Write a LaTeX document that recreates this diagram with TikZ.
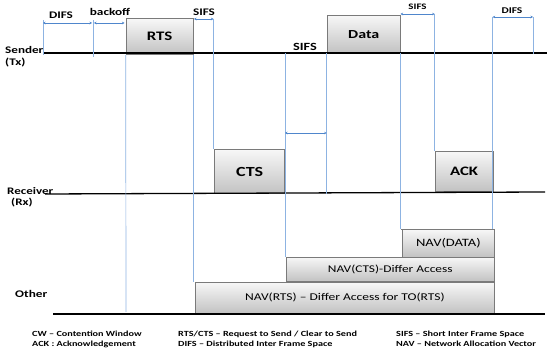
\documentclass[tikz,border=0pt]{standalone}
\usepackage{fontspec}
\usepackage{graphicx}
\setmainfont{Carlito}
\newcommand{\wtext}[1]{\scalebox{1.3}[1]{#1}}
\usetikzlibrary{arrows.meta}
\definecolor{vblue}{HTML}{8DB3E2}
\definecolor{ablue}{HTML}{4F86CC}
\definecolor{boxtop}{HTML}{F7F7F7}
\definecolor{boxbot}{HTML}{C2C2C2}
\definecolor{boxline}{HTML}{7A7A7A}
\tikzset{
  msg/.style={draw=boxline, line width=0.8pt, top color=boxtop, bottom color=boxbot, anchor=north west, inner sep=0pt, font=\bfseries},
  nav/.style={draw=boxline, line width=0.8pt, top color=boxtop, bottom color=boxbot, anchor=north west, inner sep=0pt},
  vline/.style={draw=vblue, line width=0.7pt},
  dim/.style={draw=ablue, line width=0.5pt, {Stealth[length=2.5pt,width=2.5pt]}-{Stealth[length=2.5pt,width=2.5pt]}},
  tline/.style={draw=black, line width=1.3pt},
  lbl/.style={font=\bfseries, inner sep=0pt},
  leg/.style={font=\bfseries\fontsize{7.85}{9}\selectfont, anchor=west, inner sep=0pt}
}
\begin{document}
\begin{tikzpicture}[x=1pt,y=-1pt]
\useasboundingbox (0,0) rectangle (550,352);
% message boxes
\node[msg, minimum width=67pt, minimum height=35.7pt, font=\bfseries\fontsize{13}{15}\selectfont] (rts) at (125.7,18.3) {\wtext{RTS}};
\node[msg, minimum width=73.3pt, minimum height=37.5pt, font=\bfseries\fontsize{12.3}{14}\selectfont] (data) at (326.7,15) {\wtext{Data}};
\node[msg, minimum width=70pt, minimum height=44pt, font=\bfseries\fontsize{13.9}{16}\selectfont] (cts) at (214.3,149.3) {\wtext{CTS}};
\node[msg, minimum width=58pt, minimum height=40pt, font=\bfseries\fontsize{12.9}{15}\selectfont] (ack) at (434.7,151) {\wtext{ACK}};
% NAV boxes
\node[nav, minimum width=92pt, minimum height=27.7pt, font=\fontsize{11.2}{13}\selectfont] (navdata) at (402,229) {\wtext{NAV(DATA)}};
\node[nav, minimum width=208.3pt, minimum height=24.3pt, font=\fontsize{10.3}{12}\selectfont] (navcts) at (285.7,256.7) {\wtext{NAV(CTS)-Differ Access}};
\node[nav, minimum width=299pt, minimum height=31.3pt, font=\fontsize{10.4}{12}\selectfont] (navrts) at (195,281.7) {\wtext{NAV(RTS) -- Differ Access for TO(RTS)}};
% timelines
\coordinate (s0) at (43,53); \coordinate (s1) at (547,53);
\coordinate (r0) at (45,194); \coordinate (r1) at (545,192);
\coordinate (o0) at (53,314); \coordinate (o1) at (545,314);
\draw[tline] (s0) -- (s1);
\draw[tline] (r0) -- (r1);
\draw[tline] (o0) -- (o1);
% vertical guide lines
\coordinate (a1) at (43,20); \coordinate (a1b) at (43,55);
\coordinate (a2) at (93,20); \coordinate (a2b) at (93,57);
\coordinate (a3b) at (126,312);
\coordinate (a5) at (213.5,19);
\coordinate (a6) at (285,53);
\coordinate (a9) at (434.7,14);
\coordinate (a10) at (492.7,17);
\coordinate (a11) at (533,17); \coordinate (a11b) at (533,54);
\draw[vline] (a1) -- (a1b);
\draw[vline] (a2) -- (a2b);
\draw[vline] (rts.south west) -- (a3b);
\draw[vline] (rts.south east) -- (rts.south east |- navrts.north);
\draw[vline] (a5) -- (a5 |- cts.north);
\draw[vline] (a6) -- (a6 |- navcts.north);
\draw[vline] (data.south west) -- (data.south west |- r0);
\draw[vline] (data.south east) -- (data.south east |- navdata.north);
\draw[vline] (a9) -- (ack.north west);
\draw[vline] (a10) -- (a10 |- navdata.north);
\draw[vline] (a11) -- (a11b);
\draw[draw=boxline, line width=0.6pt] (data.south east |- navdata.north) -- (navdata.north west);
% dimension arrows
\coordinate (d1a) at (43,23); \coordinate (d1b) at (92,23);
\coordinate (d2a) at (94,23); \coordinate (d2b) at (124.5,23);
\coordinate (d3a) at (194,19); \coordinate (d3b) at (213.5,19);
\coordinate (d4a) at (285,133); \coordinate (d4b) at (326.7,133);
\coordinate (d5a) at (400.5,14); \coordinate (d5b) at (434.7,14);
\coordinate (d6a) at (492.7,17); \coordinate (d6b) at (533,17);
\draw[dim] (d1a) -- (d1b);
\draw[dim] (d2a) -- (d2b);
\draw[dim] (d3a) -- (d3b);
\draw[dim] (d4a) -- (d4b);
\draw[dim] (d5a) -- (d5b);
\draw[dim] (d6a) -- (d6b);
% dimension labels
\node[lbl, font=\bfseries\fontsize{10.1}{12}\selectfont] (ldifs1) at (61,15) {\wtext{DIFS}};
\node[lbl, font=\bfseries\fontsize{10.2}{12}\selectfont] (lback) at (110,12) {\wtext{backoff}};
\node[lbl, font=\bfseries\fontsize{10.1}{12}\selectfont] (lsifs1) at (204,12) {\wtext{SIFS}};
\node[lbl, font=\bfseries\fontsize{11}{13}\selectfont] (lsifs2) at (305,47) {\wtext{SIFS}};
\node[lbl, font=\bfseries\fontsize{8.4}{10}\selectfont] (lsifs3) at (417.5,7) {\wtext{SIFS}};
\node[lbl, font=\bfseries\fontsize{8.8}{10}\selectfont] (ldifs2) at (512,11) {\wtext{DIFS}};
% row labels
\node[lbl, anchor=west, font=\bfseries\fontsize{10.1}{12}\selectfont] (snd) at (5,50) {\wtext{Sender}};
\node[lbl, anchor=west, font=\bfseries\fontsize{10.1}{12}\selectfont] (tx) at (5,63) {\wtext{(Tx)}};
\node[lbl, anchor=west, font=\bfseries\fontsize{10}{11}\selectfont] (rcv) at (7,191) {\wtext{Receiver}};
\node[lbl, anchor=west, font=\bfseries\fontsize{10}{11}\selectfont] (rx) at (11,203) {\wtext{(Rx)}};
\node[lbl, anchor=west, font=\bfseries\fontsize{10.2}{12}\selectfont] (oth) at (15,294) {\wtext{Other}};
% legend
\node[leg] (lg1) at (32,334) {\wtext{CW -- Contention Window}};
\node[leg] (lg2) at (32,344) {\wtext{ACK : Acknowledgement}};
\node[leg] (lg3) at (178,334) {\wtext{RTS/CTS -- Request to Send / Clear to Send}};
\node[leg] (lg4) at (178,344) {\wtext{DIFS -- Distributed Inter Frame Space}};
\node[leg] (lg5) at (396,334) {\wtext{SIFS -- Short Inter Frame Space}};
\node[leg] (lg6) at (396,344) {\wtext{NAV -- Network Allocation Vector}};
\end{tikzpicture}
\end{document}
